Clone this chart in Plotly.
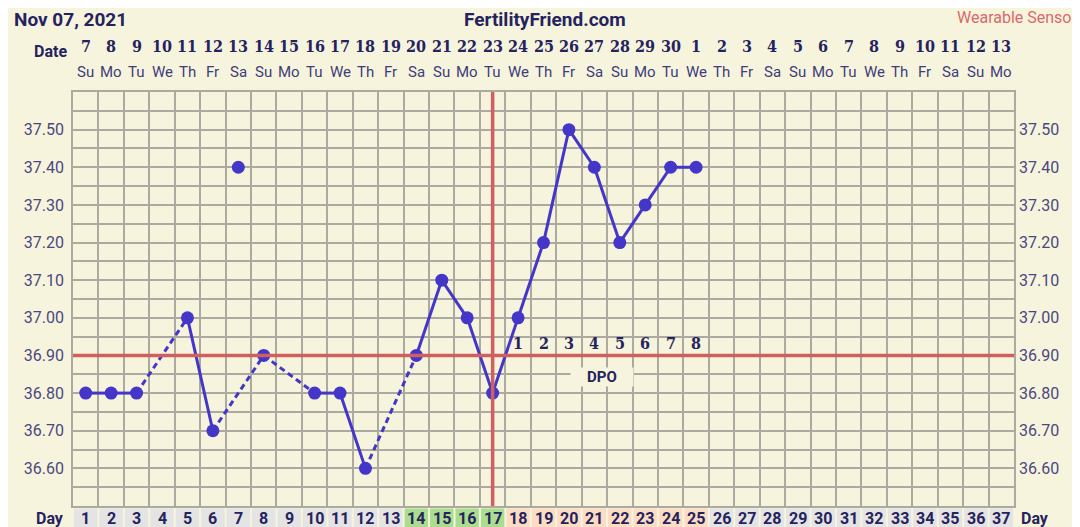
import plotly.graph_objects as go

# cycle data
days = list(range(1, 38))
dates = [7, 8, 9, 10, 11, 12, 13, 14, 15, 16, 17, 18, 19, 20, 21, 22, 23, 24, 25, 26,
         27, 28, 29, 30, 1, 2, 3, 4, 5, 6, 7, 8, 9, 10, 11, 12, 13]
weekdays = ["Su", "Mo", "Tu", "We", "Th", "Fr", "Sa"] * 5 + ["Su", "Mo"]
temps = [36.80, 36.80, 36.80, None, 37.00, 36.70, 37.40, 36.90, None, 36.80,
         36.80, 36.60, None, 36.90, 37.10, 37.00, 36.80, 37.00, 37.20, 37.50,
         37.40, 37.20, 37.30, 37.40, 37.40]
discarded_days = [7]
coverline = 36.90
ovulation_day = 17
fertile_days = [14, 15, 16, 17]
luteal_days = [18, 19, 20, 21, 22, 23, 24, 25]
dpo_labels = ["1", "2", "3", "4", "5", "6", "7", "8"]
temp_ticks = [36.60, 36.70, 36.80, 36.90, 37.00, 37.10, 37.20, 37.30, 37.40, 37.50]

BG = "#F7F4DE"
GRID = "#ABA9A0"
NAVY = "#25235E"
LABEL = "#4A4880"
LINE = "#4436C8"
RED = "#D0605F"
SLAB = "DejaVu Serif Condensed, DejaVu Serif"

fig = go.Figure()

# connect charted temps: solid for consecutive days, dashed across gaps
pts = [(d, t) for d, t in zip(days, temps) if t is not None and d not in discarded_days]
for (d0, t0), (d1, t1) in zip(pts[:-1], pts[1:]):
    fig.add_trace(go.Scatter(
        x=[d0, d1], y=[t0, t1], mode="lines",
        line=dict(color=LINE, width=3, dash="solid" if d1 - d0 == 1 else "6px,4px"),
        showlegend=False, hoverinfo="skip"))

fig.add_trace(go.Scatter(
    x=days[:len(temps)], y=temps, mode="markers",
    marker=dict(color=LINE, size=13), showlegend=False))

# right-hand temperature axis
fig.add_trace(go.Scatter(x=[None], y=[None], yaxis="y2", showlegend=False, hoverinfo="skip"))

# coverline and ovulation line
fig.add_shape(type="line", xref="paper", x0=0, x1=1, yref="y", y0=coverline, y1=coverline,
              line=dict(color=RED, width=3.5))
fig.add_shape(type="line", xref="x", x0=ovulation_day, x1=ovulation_day, yref="paper", y0=0, y1=1,
              line=dict(color=RED, width=3.5))

# DPO counters
for d, lab in zip(luteal_days, dpo_labels):
    fig.add_annotation(x=d, y=coverline, yshift=12, yanchor="middle", text="<b>" + lab + "</b>",
                       showarrow=False, font=dict(family=SLAB, size=16, color=NAVY))
fig.add_annotation(x=21.3, y=coverline, yshift=-22, yanchor="middle",
                   text="<b>DPO</b>", showarrow=False, bgcolor=BG, width=60, height=16,
                   borderpad=1, font=dict(family="Roboto", size=15, color=NAVY))

# date / weekday header rows and day row
for d, dt, wd in zip(days, dates, weekdays):
    fig.add_annotation(x=d, y=1, yref="paper", yshift=46, yanchor="middle", text="<b>%d</b>" % dt,
                       showarrow=False, font=dict(family=SLAB, size=16, color=NAVY))
    fig.add_annotation(x=d, y=1, yref="paper", yshift=20, yanchor="middle", text=wd,
                       showarrow=False, font=dict(family="Roboto", size=15, color="#3E3C7A"))
    if d in fertile_days:
        cell = "#ABDD8E"
    elif d in luteal_days:
        cell = "#FCDCC2"
    else:
        cell = "#E4E4E4"
    fig.add_shape(type="rect", xref="x", x0=d - 0.46, x1=d + 0.46, yref="paper", y0=-0.006, y1=-0.09,
                  fillcolor=cell, line=dict(width=0), layer="below")
    fig.add_annotation(x=d, y=0, yref="paper", yshift=-12, yanchor="middle", text="<b>%d</b>" % d,
                       showarrow=False, font=dict(family="Roboto", size=16, color=NAVY))

fig.add_annotation(x=-0.024, y=1, xref="paper", yref="paper", yshift=41, xanchor="center",
                   yanchor="middle", text="<b>Date</b>", showarrow=False,
                   font=dict(family="Roboto", size=16, color=NAVY))
fig.add_annotation(x=-0.024, y=0, xref="paper", yref="paper", yshift=-12, xanchor="center",
                   yanchor="middle", text="<b>Day</b>", showarrow=False,
                   font=dict(family="Roboto", size=16, color=NAVY))
fig.add_annotation(x=1.022, y=0, xref="paper", yref="paper", yshift=-12, xanchor="center",
                   yanchor="middle", text="<b>Day</b>", showarrow=False,
                   font=dict(family="Roboto", size=16, color=NAVY))

# titles
fig.add_annotation(x=0, y=1, xref="paper", yref="paper", xshift=-61, yshift=73, xanchor="left",
                   yanchor="middle", text="<b>Nov 07, 2021</b>", showarrow=False,
                   font=dict(family="Roboto", size=19, color=NAVY))
fig.add_annotation(x=0.5, y=1, xref="paper", yref="paper", xshift=1, yshift=73, yanchor="middle",
                   text="<b>FertilityFriend.com</b>", showarrow=False,
                   font=dict(family="Roboto", size=19, color=NAVY))
fig.add_annotation(x=0.937, y=1, xref="paper", yref="paper", yshift=75, xanchor="left",
                   yanchor="middle", text="Wearable Sensor", showarrow=False,
                   font=dict(family="Roboto", size=16, color="#D96A6A"))

tick_text = ["%.2f" % v for v in temp_ticks]
yaxis_common = dict(
    range=[36.5, 37.6], tickvals=temp_ticks, ticktext=tick_text, ticks="",
    tickfont=dict(family="Roboto", size=16, color=LABEL), fixedrange=True,
    ticklabelstandoff=4,
)

# the page body adds an 8px margin, so the figure is sized to fit inside the window
fig.update_layout(
    width=1072, height=519,
    margin=dict(l=65, r=66, t=84, b=21),
    paper_bgcolor=BG, plot_bgcolor=BG,
    xaxis=dict(range=[0.5, 37.5], tickvals=[d - 0.5 for d in days] + [days[-1] + 0.5],
               showticklabels=False, ticks="", showgrid=True, gridcolor=GRID, gridwidth=1.6,
               zeroline=False, showline=True, linecolor=GRID, linewidth=1.6, mirror=True),
    yaxis=dict(**yaxis_common, showgrid=True, gridcolor=GRID, gridwidth=1.6, zeroline=False,
               minor=dict(tick0=36.5, dtick=0.05, showgrid=True, gridcolor=GRID, gridwidth=1.6),
               showline=True, linecolor=GRID, linewidth=1.6, mirror=True),
    yaxis2=dict(**yaxis_common, overlaying="y", side="right", showgrid=False, zeroline=False),
    showlegend=False,
)

fig.write_html("out.html")
